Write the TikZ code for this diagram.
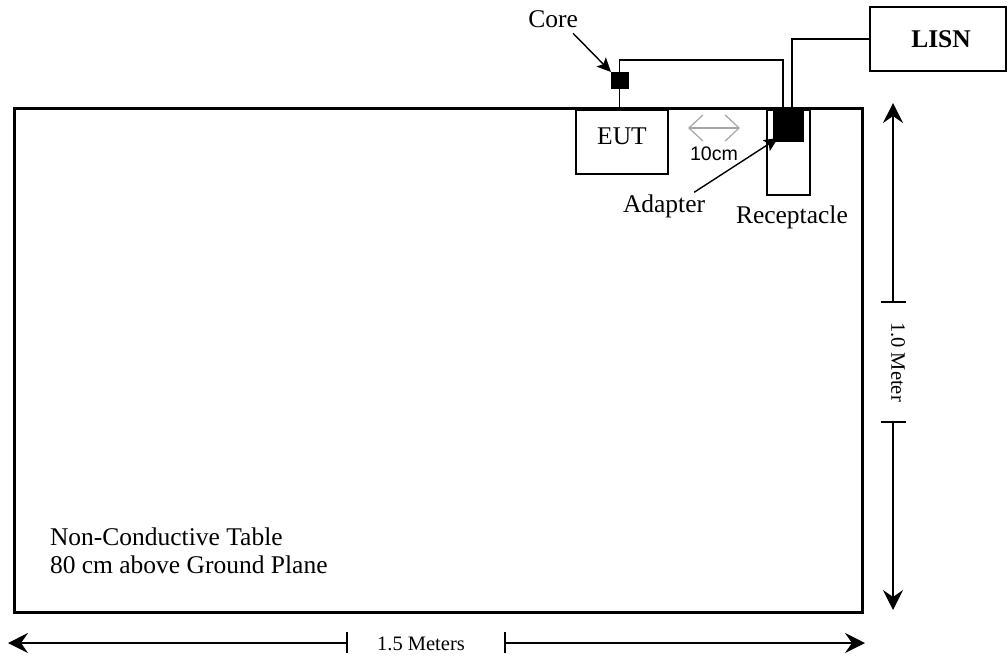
\documentclass[tikz,border=0pt]{standalone}
\usepackage{fontspec}
\setmainfont{Liberation Serif}
\newfontfamily\helv{Liberation Sans}
\usetikzlibrary{arrows.meta}
\definecolor{dimgrayarrow}{RGB}{165,165,165}
\newcommand\bodyfnt{\fontsize{25.5}{28}\selectfont}
\newcommand\dimfnt{\fontsize{20.5}{23}\selectfont}
\tikzset{
  tablebox/.style={draw, line width=3pt, inner sep=0pt, outer sep=0pt},
  thinbox/.style={draw, line width=1.2pt, inner sep=0pt, outer sep=0pt},
  blackblock/.style={fill=black, draw=black, line width=0.5pt, inner sep=0pt, outer sep=0pt},
  txt/.style={inner sep=0pt, outer sep=0pt, font=\bodyfnt},
  dimtxt/.style={inner sep=0pt, outer sep=0pt, font=\dimfnt},
  thinwire/.style={line width=1.1pt},
  thickwire/.style={line width=2.6pt},
  dimline/.style={line width=1.5pt, -{Stealth[length=20pt,width=20pt,inset=7pt]}},
  dimtick/.style={line width=1.5pt},
  pointer/.style={line width=1.4pt, -{Stealth[length=14pt,width=13pt,inset=3pt]}},
  gaparrow/.style={draw=dimgrayarrow, line width=1.2pt, {Straight Barb[length=14pt,width=26pt]}-{Straight Barb[length=14pt,width=26pt]}}
}
\begin{document}
\begin{tikzpicture}[x=1pt,y=-1pt]
\useasboundingbox (0,0) rectangle (1008,659);
% table
\node[tablebox, minimum width=848pt, minimum height=504pt] (table) at (438,360) {};
\node[txt, anchor=base west, align=left] (tabletext) at (50,573) {Non-Conductive Table\\80 cm above Ground Plane};
% EUT
\node[thinbox, minimum width=92pt, minimum height=64pt] (eut) at (622,142) {};
\node[txt, anchor=base] (euttext) at (622,144) {EUT};
% receptacle and adapter
\node[thinbox, minimum width=43pt, minimum height=85pt] (recept) at (788.5,152.5) {};
\node[blackblock, minimum width=30pt, minimum height=34pt] (adapter) at (788,124) {};
% core
\node[blackblock, minimum width=17pt, minimum height=16pt] (core) at (619.5,80) {};
% LISN
\node[thinbox, minimum width=136pt, minimum height=64pt, font=\bodyfnt\bfseries] (lisn) at (938,39) {\hspace*{6pt}LISN};
% wires
\coordinate (thinEnd) at (783,108);
\coordinate (thickStart) at (792,108);
\draw[thinwire] (core.south) -- (core.south |- eut.north);
\draw[thinwire] (core.north) -- ++(0,-12) -| (thinEnd);
\draw[thickwire] (thickStart) |- (lisn.west);
% labels
\node[txt, anchor=base east] (corelbl) at (578,27) {Core};
\draw[pointer] ([xshift=-5pt,yshift=-6pt]corelbl.south east) -- (core.north west);
\node[txt, anchor=base west] (adapterlbl) at (623,212) {Adapter};
\draw[pointer] ([xshift=-11pt,yshift=2pt]adapterlbl.north east) -- ([xshift=5pt,yshift=3pt]adapter.south west);
\node[txt, anchor=base west] (receptlbl) at (736,223) {Receptacle};
% 10 cm gap
\coordinate (gapL) at (688,128);
\coordinate (gapR) at (740,128);
\draw[gaparrow] (gapL) -- (gapR);
\node[inner sep=0pt, anchor=base, font=\helv\fontsize{19.6}{22}\selectfont] (gaplbl) at (714,160) {10cm};
% vertical dimension
\coordinate (vTop) at (893,103);
\coordinate (vT1) at (893,302);
\coordinate (vT2) at (893,422);
\coordinate (vBot) at (893,610);
\draw[dimline] (vT1) -- (vTop);
\draw[dimline] (vT2) -- (vBot);
\draw[dimtick] ([xshift=-12pt]vT1) -- ([xshift=13pt]vT1);
\draw[dimtick] ([xshift=-12pt]vT2) -- ([xshift=13pt]vT2);
\node[dimtxt, rotate=-90] (vlbl) at (898,362) {1.0 Meter};
% horizontal dimension
\coordinate (hL) at (8,643);
\coordinate (hT1) at (347,643);
\coordinate (hT2) at (505,643);
\coordinate (hR) at (865,643);
\draw[dimline] (hT1) -- (hL);
\draw[dimline] (hT2) -- (hR);
\draw[dimtick] ([yshift=11pt]hT1) -- ([yshift=-10pt]hT1);
\draw[dimtick] ([yshift=11pt]hT2) -- ([yshift=-10pt]hT2);
\node[dimtxt] (hlbl) at (421,644) {1.5 Meters};
\end{tikzpicture}
\end{document}
